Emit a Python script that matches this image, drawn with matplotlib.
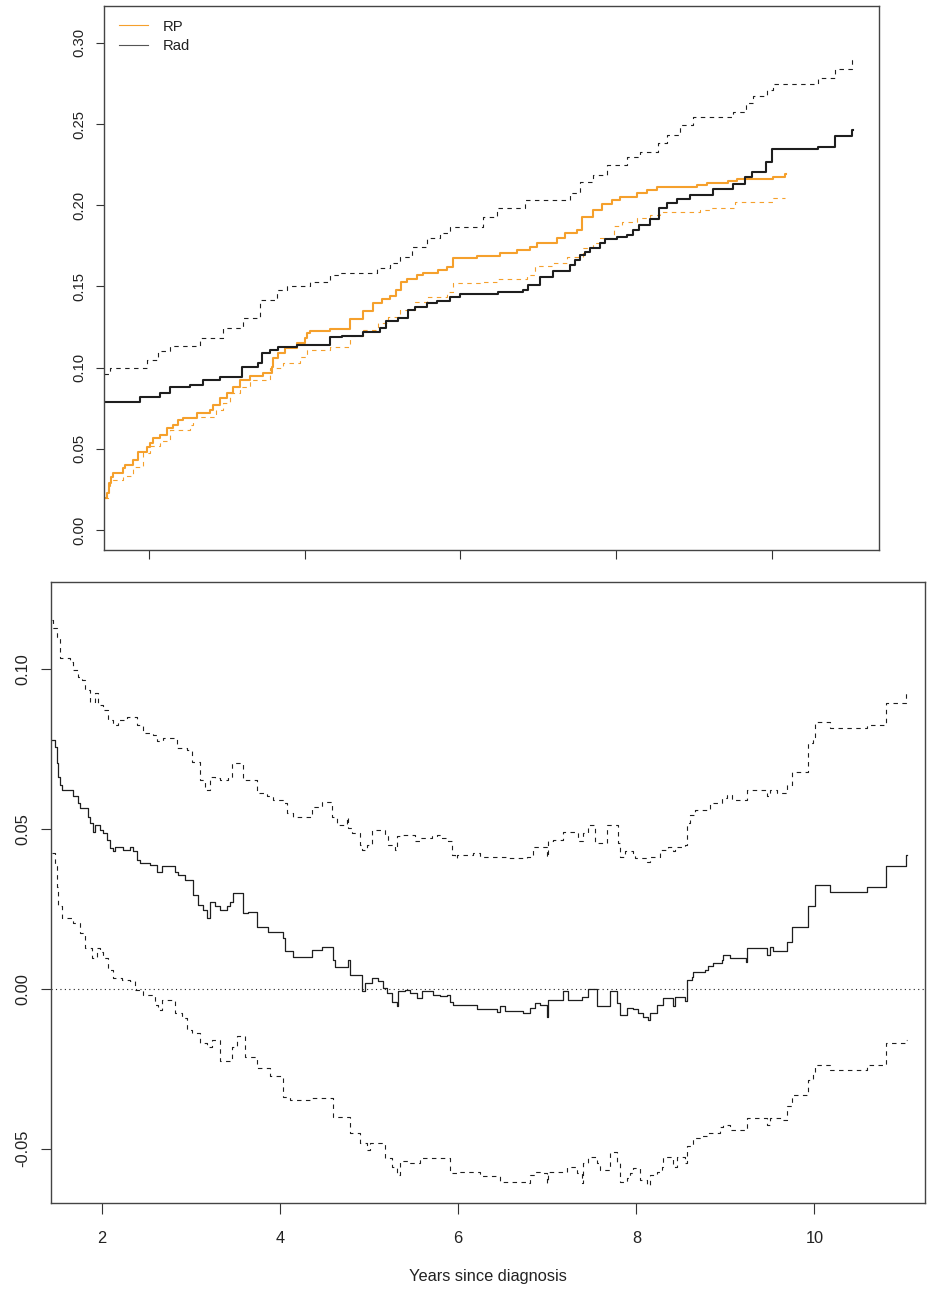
import matplotlib
matplotlib.use("Agg")
import matplotlib.pyplot as plt

plt.rcParams['font.family'] = ['Liberation Sans', 'DejaVu Sans']

# ---- top panel: cumulative incidence, RP vs Rad ----
rad_t = [1.426, 1.888, 2.145, 2.273, 2.53, 2.697, 2.915, 3.198, 3.403, 3.454,
         3.557, 3.66, 3.904, 4.327, 4.481, 4.751, 4.969, 5.046, 5.2, 5.329,
         5.419, 5.573, 5.701, 5.868, 5.996, 6.484, 6.805, 6.869, 7.023, 7.19,
         7.408, 7.473, 7.537, 7.601, 7.665, 7.793, 7.858, 8.012, 8.14, 8.217,
         8.294, 8.435, 8.55, 8.653, 8.781, 8.949, 9.244, 9.5, 9.654, 9.744,
         9.924, 10.001, 10.592, 10.81, 11.028, 11.041]
rad_p = [0.0787, 0.0817, 0.0842, 0.0883, 0.0893, 0.0924, 0.0944, 0.1002, 0.1026, 0.1088,
         0.1108, 0.1125, 0.1139, 0.1187, 0.1195, 0.1217, 0.1242, 0.1287, 0.1303, 0.1355,
         0.1371, 0.1396, 0.1412, 0.1437, 0.1451, 0.1467, 0.1478, 0.1509, 0.156, 0.1597,
         0.1632, 0.1663, 0.1693, 0.1714, 0.174, 0.1769, 0.179, 0.1804, 0.1816, 0.1847,
         0.1878, 0.1913, 0.1981, 0.2012, 0.2036, 0.2063, 0.2098, 0.2131, 0.2176, 0.2207,
         0.2268, 0.2344, 0.236, 0.2426, 0.2463, 0.2463]

rp_t = [1.426, 1.461, 1.49, 1.516, 1.546, 1.674, 1.696, 1.802, 1.866, 1.974,
        2.017, 2.059, 2.145, 2.231, 2.316, 2.38, 2.444, 2.616, 2.787, 2.829,
        2.915, 3.001, 3.086, 3.172, 3.3, 3.471, 3.579, 3.6, 3.664, 3.75,
        3.9, 4.006, 4.032, 4.071, 4.327, 4.584, 4.751, 4.879, 4.995, 5.097,
        5.174, 5.239, 5.316, 5.444, 5.521, 5.714, 5.829, 5.906, 6.214, 6.51,
        6.728, 6.895, 6.985, 7.241, 7.344, 7.498, 7.562, 7.703, 7.819, 7.947,
        8.05, 8.268, 8.396, 8.525, 9.038, 9.167, 9.436, 9.552, 10.014, 10.168,
        10.18]
rp_p = [0.0195, 0.0228, 0.029, 0.0328, 0.0353, 0.038, 0.04, 0.0431, 0.0482, 0.0513,
        0.0534, 0.0564, 0.0585, 0.0626, 0.0647, 0.0677, 0.0688, 0.0719, 0.0739, 0.077,
        0.0811, 0.0842, 0.0883, 0.0924, 0.0948, 0.0965, 0.1006, 0.1057, 0.1088, 0.1119,
        0.115, 0.118, 0.1211, 0.1225, 0.1236, 0.1297, 0.1348, 0.14, 0.142, 0.1441,
        0.1478, 0.1529, 0.1544, 0.157, 0.158, 0.1601, 0.1621, 0.1673, 0.169, 0.1704,
        0.1724, 0.1745, 0.1765, 0.1796, 0.1827, 0.1847, 0.1929, 0.197, 0.2007, 0.2035,
        0.2052, 0.2073, 0.2094, 0.211, 0.2124, 0.2135, 0.2151, 0.2163, 0.2172, 0.2192,
        0.2192]

rp2_t = [1.426, 1.478, 1.503, 1.67, 1.8, 1.93, 2.017, 2.145, 2.273, 2.53,
         2.57, 2.864, 2.954, 3.044, 3.172, 3.3, 3.557, 3.724, 3.942, 4.032,
         4.327, 4.584, 4.751, 4.944, 5.072, 5.226, 5.419, 5.573, 5.829, 5.906,
         6.253, 6.471, 6.856, 6.959, 7.19, 7.369, 7.575, 7.703, 7.793, 7.973,
         8.076, 8.268, 8.435, 8.563, 9.077, 9.205, 9.526, 10.014, 10.168]
rp2_p = [0.02, 0.027, 0.0308, 0.033, 0.039, 0.0472, 0.052, 0.055, 0.0616, 0.065,
         0.0698, 0.0739, 0.078, 0.0842, 0.0883, 0.0924, 0.0995, 0.1026, 0.1067, 0.1108,
         0.1129, 0.1195, 0.1232, 0.1273, 0.1314, 0.1355, 0.1405, 0.1437, 0.1467, 0.1519,
         0.1529, 0.1545, 0.157, 0.1624, 0.1642, 0.1683, 0.1734, 0.1765, 0.1798, 0.1872,
         0.1898, 0.1919, 0.194, 0.196, 0.197, 0.1981, 0.2022, 0.2042, 0.2042]

rad2_t = [1.426, 1.503, 1.978, 2.119, 2.273, 2.659, 2.954, 3.211, 3.429, 3.647,
          3.776, 4.071, 4.327, 4.456, 4.931, 5.097, 5.226, 5.38, 5.573, 5.739,
          5.868, 6.291, 6.471, 6.831, 7.408, 7.537, 7.703, 7.883, 8.14, 8.307,
          8.538, 8.653, 8.82, 8.987, 9.5, 9.667, 9.757, 9.937, 10.014, 10.592,
          10.81, 11.028, 11.041]
rad2_p = [0.0958, 0.0995, 0.1047, 0.11, 0.1135, 0.118, 0.1242, 0.1303, 0.1416, 0.1478,
          0.1505, 0.1529, 0.157, 0.158, 0.1611, 0.1642, 0.1683, 0.1745, 0.1796, 0.1827,
          0.1867, 0.1929, 0.1981, 0.2032, 0.2073, 0.2145, 0.2186, 0.2248, 0.2298, 0.2329,
          0.2381, 0.2432, 0.2494, 0.2541, 0.2576, 0.2627, 0.2674, 0.2709, 0.2745, 0.2782,
          0.2837, 0.2894, 0.2894]

# ---- bottom panel: difference with band ----
diff_t = [1.435, 1.472, 1.491, 1.509, 1.528, 1.548, 1.678, 1.734, 1.753, 1.846,
          1.865, 1.902, 1.921, 1.978, 2.015, 2.053, 2.09, 2.127, 2.146, 2.236,
          2.314, 2.351, 2.39, 2.427, 2.539, 2.614, 2.67, 2.82, 2.857, 2.932,
          3.025, 3.081, 3.137, 3.176, 3.213, 3.269, 3.325, 3.4, 3.437, 3.474,
          3.587, 3.643, 3.737, 3.867, 4.036, 4.055, 4.148, 4.355, 4.467, 4.597,
          4.616, 4.766, 4.785, 4.916, 4.953, 5.028, 5.102, 5.158, 5.197, 5.253,
          5.309, 5.327, 5.402, 5.458, 5.533, 5.59, 5.72, 5.795, 5.87, 5.907,
          5.944, 6.076, 6.207, 6.432, 6.469, 6.525, 6.73, 6.806, 6.862, 6.918,
          6.993, 7.011, 7.179, 7.236, 7.386, 7.46, 7.555, 7.704, 7.779, 7.816,
          7.891, 7.966, 8.022, 8.078, 8.134, 8.153, 8.228, 8.302, 8.415, 8.434,
          8.546, 8.565, 8.621, 8.639, 8.771, 8.808, 8.864, 8.958, 8.976, 9.051,
          9.231, 9.239, 9.463, 9.5, 9.537, 9.688, 9.744, 9.93, 10.006, 10.174,
          10.593, 10.799, 11.027, 11.035]
diff_v = [0.0779, 0.0758, 0.0706, 0.0664, 0.0638, 0.0623, 0.0602, 0.0581, 0.0565, 0.0539,
          0.0518, 0.0492, 0.0513, 0.0497, 0.0487, 0.0466, 0.044, 0.043, 0.0445, 0.0435,
          0.0445, 0.043, 0.0404, 0.0393, 0.0388, 0.0367, 0.0383, 0.0367, 0.0357, 0.0341,
          0.0294, 0.0263, 0.0247, 0.0221, 0.0273, 0.026, 0.0247, 0.026, 0.0273, 0.0299,
          0.0237, 0.024, 0.0195, 0.0179, 0.0159, 0.0117, 0.0101, 0.0122, 0.0132, 0.0091,
          0.0068, 0.0091, 0.0044, -0.0008, 0.0018, 0.0033, 0.0025, 0.0002, -0.0013, -0.004,
          -0.0053, -0.0008, -0.0005, -0.0012, -0.0029, -0.0008, -0.0018, -0.0022, -0.0018, -0.004,
          -0.005, -0.0052, -0.0064, -0.0071, -0.0055, -0.0068, -0.0076, -0.006, -0.0045, -0.005,
          -0.0087, -0.0034, -0.0008, -0.0034, -0.0024, 0.0001, -0.0055, -0.0008, -0.0045, -0.0081,
          -0.0061, -0.0063, -0.0076, -0.0087, -0.0097, -0.0076, -0.005, -0.0029, -0.0055, -0.0024,
          -0.0037, 0.0028, 0.0038, 0.0054, 0.0059, 0.007, 0.0082, 0.0091, 0.0106, 0.0096,
          0.0085, 0.0127, 0.0106, 0.0132, 0.0117, 0.0148, 0.0195, 0.0258, 0.0325, 0.0304,
          0.032, 0.0383, 0.0419, 0.0419]

upper_t = [1.435, 1.453, 1.491, 1.528, 1.641, 1.678, 1.734, 1.772, 1.809, 1.865,
           1.921, 1.958, 2.015, 2.071, 2.127, 2.183, 2.277, 2.39, 2.464, 2.576,
           2.614, 2.688, 2.839, 2.951, 3.007, 3.1, 3.156, 3.213, 3.269, 3.325,
           3.418, 3.456, 3.587, 3.737, 3.849, 3.923, 4.036, 4.074, 4.148, 4.355,
           4.467, 4.579, 4.635, 4.747, 4.766, 4.804, 4.897, 4.916, 4.972, 5.028,
           5.178, 5.215, 5.29, 5.309, 5.346, 5.514, 5.571, 5.702, 5.758, 5.814,
           5.888, 5.926, 5.963, 5.983, 6.169, 6.244, 6.544, 6.769, 6.843, 6.993,
           7.011, 7.067, 7.179, 7.348, 7.404, 7.46, 7.535, 7.667, 7.797, 7.816,
           7.872, 7.966, 7.985, 8.116, 8.153, 8.265, 8.358, 8.415, 8.434, 8.546,
           8.565, 8.602, 8.658, 8.827, 8.958, 9.014, 9.07, 9.239, 9.463, 9.5,
           9.575, 9.688, 9.744, 9.93, 9.987, 10.006, 10.174, 10.593, 10.799, 11.027,
           11.035]
upper_v = [0.1155, 0.113, 0.1102, 0.1035, 0.1024, 0.0998, 0.0977, 0.0967, 0.0936, 0.0899,
           0.0925, 0.0889, 0.0873, 0.0842, 0.0826, 0.0842, 0.0852, 0.0826, 0.08, 0.0795,
           0.0774, 0.0784, 0.0753, 0.0748, 0.0711, 0.0654, 0.0623, 0.0664, 0.066, 0.0654,
           0.0664, 0.0706, 0.0654, 0.0612, 0.0602, 0.0591, 0.0581, 0.055, 0.0539, 0.057,
           0.0586, 0.0539, 0.0513, 0.0539, 0.0503, 0.0487, 0.0451, 0.0435, 0.0451, 0.0497,
           0.0477, 0.0451, 0.0435, 0.0477, 0.0482, 0.0461, 0.0472, 0.0477, 0.0482, 0.0472,
           0.0461, 0.0419, 0.0409, 0.0419, 0.0425, 0.0414, 0.0409, 0.0414, 0.0445, 0.0414,
           0.0461, 0.0466, 0.0492, 0.0461, 0.0487, 0.0513, 0.0456, 0.0513, 0.0456, 0.0414,
           0.043, 0.0425, 0.0409, 0.0398, 0.0414, 0.0435, 0.0445, 0.043, 0.0445, 0.0451,
           0.0518, 0.0544, 0.056, 0.0581, 0.0597, 0.0607, 0.0591, 0.0623, 0.0602, 0.0623,
           0.0612, 0.0638, 0.068, 0.0769, 0.0789, 0.0836, 0.0816, 0.0826, 0.0894, 0.093,
           0.093]

lower_t = [1.435, 1.472, 1.491, 1.509, 1.548, 1.678, 1.753, 1.809, 1.884, 1.94,
           1.978, 2.015, 2.071, 2.127, 2.221, 2.314, 2.371, 2.464, 2.595, 2.632,
           2.67, 2.82, 2.895, 2.951, 3.007, 3.1, 3.176, 3.232, 3.325, 3.456,
           3.512, 3.606, 3.737, 3.886, 4.036, 4.111, 4.355, 4.597, 4.785, 4.897,
           4.972, 5.009, 5.178, 5.253, 5.309, 5.346, 5.458, 5.571, 5.907, 6.02,
           6.244, 6.469, 6.787, 6.806, 6.862, 6.918, 6.993, 7.011, 7.218, 7.33,
           7.386, 7.404, 7.46, 7.555, 7.592, 7.704, 7.779, 7.816, 7.891, 7.929,
           7.966, 8.041, 8.116, 8.153, 8.228, 8.284, 8.302, 8.415, 8.452, 8.546,
           8.565, 8.639, 8.715, 8.808, 8.939, 8.976, 9.051, 9.239, 9.463, 9.5,
           9.65, 9.688, 9.744, 9.93, 9.987, 10.006, 10.174, 10.593, 10.799, 11.027,
           11.035]
lower_v = [0.0425, 0.0383, 0.032, 0.0258, 0.0221, 0.0206, 0.0174, 0.0127, 0.0096, 0.0127,
           0.0115, 0.0096, 0.0059, 0.0033, 0.0028, 0.0023, -0.0003, -0.0019, -0.005, -0.0066,
           -0.0034, -0.0076, -0.0092, -0.0128, -0.0139, -0.017, -0.0181, -0.016, -0.0227, -0.0181,
           -0.0149, -0.0212, -0.0248, -0.0274, -0.0337, -0.0347, -0.0342, -0.04, -0.0452, -0.0483,
           -0.0504, -0.0483, -0.053, -0.0556, -0.0582, -0.054, -0.0545, -0.053, -0.0577, -0.0572,
           -0.0585, -0.0603, -0.0608, -0.0582, -0.0572, -0.0577, -0.0608, -0.0572, -0.0556, -0.0577,
           -0.0608, -0.0545, -0.0525, -0.0545, -0.0566, -0.0509, -0.0545, -0.0603, -0.0592, -0.0577,
           -0.0561, -0.0598, -0.0613, -0.0582, -0.0572, -0.0556, -0.0525, -0.0556, -0.0525, -0.0545,
           -0.0493, -0.0467, -0.0462, -0.0452, -0.0431, -0.0426, -0.0441, -0.0405, -0.0426, -0.0405,
           -0.041, -0.0368, -0.0332, -0.0285, -0.0259, -0.0238, -0.0253, -0.0238, -0.017, -0.016,
           -0.016]

x_ticks = [2, 4, 6, 8, 10]
top_yticks = [0.00, 0.05, 0.10, 0.15, 0.20, 0.25, 0.30]
bot_yticks = [-0.05, 0.00, 0.05, 0.10]

orange = '#f5a02c'
dark = '#1e1e1e'
dash = (0, (4, 4))

fig = plt.figure(figsize=(9.27, 12.89), dpi=100)
ax1 = fig.add_axes([0.1122, 0.5733, 0.836, 0.4220])
ax2 = fig.add_axes([0.0550, 0.0665, 0.9428, 0.4820])

# top
ax1.plot(rad2_t, rad2_p, drawstyle='steps-post', color=dark, lw=0.8, linestyle=dash)
ax1.plot(rp2_t, rp2_p, drawstyle='steps-post', color=orange, lw=0.8, linestyle=dash)
l_rp, = ax1.plot(rp_t, rp_p, drawstyle='steps-post', color=orange, lw=1.5, label='RP')
l_rad, = ax1.plot(rad_t, rad_p, drawstyle='steps-post', color=dark, lw=1.5, label='Rad')

ax1.set_xlim(1.426, 11.375)
ax1.set_ylim(-0.0123, 0.3227)
ax1.set_xticks(x_ticks)
ax1.set_xticklabels([])
ax1.set_yticks(top_yticks)
ax1.set_yticklabels([f"{v:.2f}" for v in top_yticks])
ax1.tick_params(axis='x', direction='out', length=6.5, width=0.8, colors='#333333')
ax1.tick_params(axis='y', direction='out', length=5.8, width=0.8, colors='#333333',
                labelsize=10.7, pad=6.9, labelrotation=90)
for lab in ax1.get_yticklabels():
    lab.set_va('center')

leg = ax1.legend(handles=[l_rp, l_rad], loc='upper left', bbox_to_anchor=(0.0194, 0.975),
                 frameon=False, fontsize=10.7, handlelength=1.95, handletextpad=1.0,
                 borderpad=0, borderaxespad=0, labelspacing=0.38)
leg.legend_handles[0].set_linewidth(0.8)
leg.legend_handles[1].set_linewidth(0.8)
leg.legend_handles[1].set_color('#555555')
for txt in leg.get_texts():
    txt.set_color('#222222')

# bottom
ax2.axhline(0, color='#222222', lw=0.8, linestyle=(0, (1, 3)))
ax2.plot(upper_t, upper_v, drawstyle='steps-post', color=dark, lw=0.8, linestyle=dash)
ax2.plot(lower_t, lower_v, drawstyle='steps-post', color=dark, lw=0.8, linestyle=dash)
ax2.plot(diff_t, diff_v, drawstyle='steps-post', color=dark, lw=0.9)

ax2.set_xlim(1.427, 11.241)
ax2.set_ylim(-0.0671, 0.1273)
ax2.set_xticks(x_ticks)
ax2.set_xticklabels([str(v) for v in x_ticks])
ax2.set_yticks(bot_yticks)
ax2.set_yticklabels([f"{v:.2f}" for v in bot_yticks])
ax2.tick_params(axis='x', direction='out', length=8, width=0.8, colors='#333333',
                labelsize=11.8, pad=11.6)
ax2.tick_params(axis='y', direction='out', length=7.2, width=0.8, colors='#333333',
                labelsize=11.8, pad=7.7, labelrotation=90)
for lab in ax2.get_yticklabels():
    lab.set_va('center')
for lab in ax2.get_xticklabels() + ax2.get_yticklabels() + ax1.get_yticklabels():
    lab.set_color('#222222')
ax2.set_xlabel('Years since diagnosis', fontsize=11.8, labelpad=17, color='#222222')

for ax in (ax1, ax2):
    for sp in ax.spines.values():
        sp.set_color('#444444')
        sp.set_linewidth(1.0)

fig.savefig('out.png', dpi=100)
